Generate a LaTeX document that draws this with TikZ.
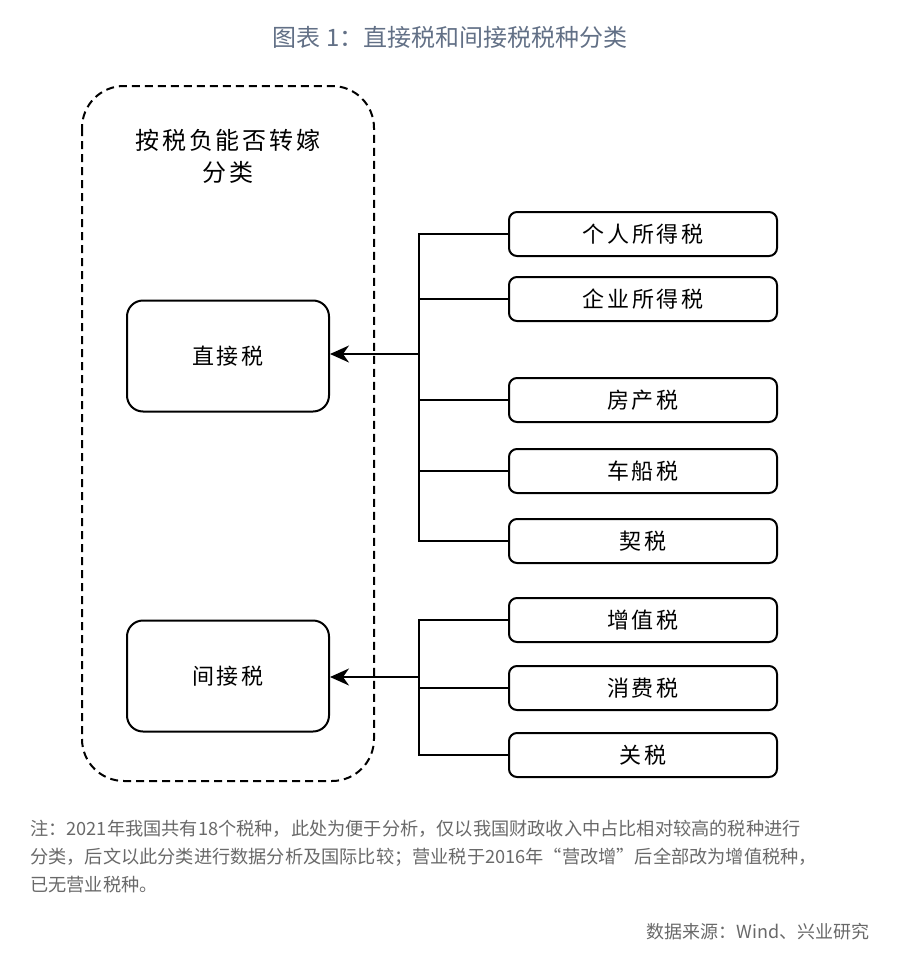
\documentclass[tikz,border=0pt]{standalone}
\usepackage{fontspec}
\setmainfont{Noto Sans CJK SC}
\newfontfamily\boxfont[LetterSpace=12]{Noto Sans CJK SC}
\usetikzlibrary{arrows.meta}

\definecolor{titlecol}{RGB}{98,112,134}
\definecolor{notecol}{RGB}{105,105,105}

\tikzset{
  taxbox/.style={draw, line width=2pt, rounded corners=8pt, minimum width=268pt,
    minimum height=44pt, font=\boxfont\fontsize{22}{24}\selectfont},
  kindbox/.style={draw, line width=2pt, rounded corners=16pt, minimum width=202pt,
    minimum height=111pt, font=\boxfont\fontsize{22}{24}\selectfont},
  branch/.style={line width=1.6pt},
  toarrow/.style={line width=1.6pt, {Stealth[length=19pt,width=17pt,inset=6pt]}-}
}

\begin{document}
\begin{tikzpicture}[x=1pt,y=-1pt]
      \useasboundingbox (0,0) rectangle (900,966);

      \node (TITLE) at (450,37) {\color{titlecol}\fontsize{24}{26}\selectfont 图表 1：直接税和间接税税种分类};

      % dashed frame
      \draw [line width=2pt, dash pattern=on 8pt off 5pt, rounded corners=42pt]
        (82,86) rectangle (374,781);
      \node [align=center, font=\boxfont\fontsize{24}{32}\selectfont] (HEAD) at (228,156)
        {按税负能否转嫁\\分类};

      \node [kindbox] (ZJS) at (228,356) {直接税};
      \node [kindbox] (JJS) at (228,676) {间接税};

      \node [taxbox] (GR) at (643,234) {个人所得税};
      \node [taxbox] (QY) at (643,299) {企业所得税};
      \node [taxbox] (FC) at (643,400) {房产税};
      \node [taxbox] (CC) at (643,471) {车船税};
      \node [taxbox] (QS) at (643,541) {契税};

      \node [taxbox] (ZZ) at (643,620) {增值税};
      \node [taxbox] (XF) at (643,688) {消费税};
      \node [taxbox] (GS) at (643,755) {关税};

      \coordinate (T1) at (419,354);
      \coordinate (T2) at (419,677);

      \draw [toarrow] (ZJS.east |- T1) -- (T1);
      \draw [toarrow] (JJS.east |- T2) -- (T2);
      \foreach \n in {GR,QY,FC,CC,QS}
        \draw [branch] (\n.west) -| (T1);
      \foreach \n in {ZZ,XF,GS}
        \draw [branch] (\n.west) -| (T2);

      \node [anchor=north west, align=left, inner sep=0pt, text=notecol,
        font=\fontsize{18.2}{28}\selectfont] (NOTE) at (30,820)
        {注：2021年我国共有18个税种，此处为便于分析，仅以我国财政收入中占比相对较高的税种进行\\
         分类，后文以此分类进行数据分析及国际比较；营业税于2016年“营改增”后全部改为增值税种，\\
         已无营业税种。};
      \node [anchor=east, inner sep=0pt, text=notecol, font=\fontsize{18}{20}\selectfont]
        (SRC) at (870,932) {数据来源：Wind、兴业研究};
  \end{tikzpicture}
\end{document}
